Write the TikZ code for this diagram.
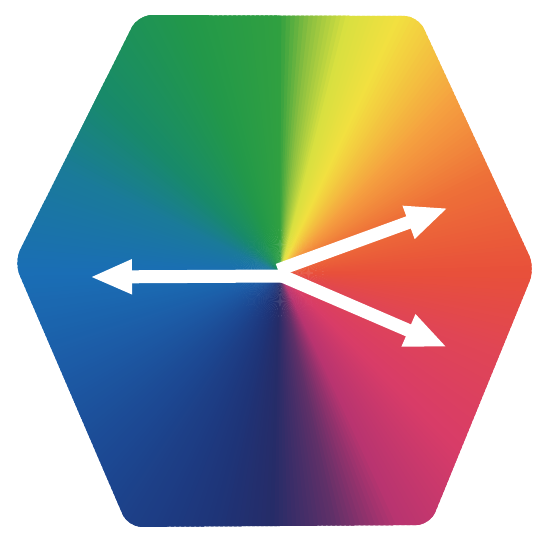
\documentclass[tikz,border=0pt]{standalone}
\usetikzlibrary{arrows.meta}
\definecolor{k0}{HTML}{E8503A}
\definecolor{k1}{HTML}{EE7038}
\definecolor{k2}{HTML}{F5A040}
\definecolor{k3}{HTML}{F2E040}
\definecolor{k4}{HTML}{D8E040}
\definecolor{k5}{HTML}{8CC040}
\definecolor{k6}{HTML}{30A040}
\definecolor{k7}{HTML}{22984A}
\definecolor{k8}{HTML}{188A6A}
\definecolor{k9}{HTML}{1A7A9A}
\definecolor{k10}{HTML}{1A6EB5}
\definecolor{k11}{HTML}{1C5AA5}
\definecolor{k12}{HTML}{1C4690}
\definecolor{k13}{HTML}{1E3478}
\definecolor{k14}{HTML}{262C68}
\definecolor{k15}{HTML}{603068}
\definecolor{k16}{HTML}{B83470}
\definecolor{k17}{HTML}{D83C68}
\definecolor{k18}{HTML}{E04555}
\tikzset{
  warrow/.style={draw=white, fill=white, line width=13pt, -{Triangle[length=42pt,width=32pt]}}
}
\begin{document}
\begin{tikzpicture}[x=1pt,y=1pt]
\useasboundingbox (0,0) rectangle (540,536);
\fill[white] (0,0) rectangle (540,536);
\coordinate (o) at (280,263);
\coordinate (h1) at (138,521);
\coordinate (h2) at (418,520);
\coordinate (h3) at (535,268);
\coordinate (h4) at (430,11);
\coordinate (h5) at (128,9);
\coordinate (h6) at (14,274);
\begin{scope}
\clip[rounded corners=14pt] (h1) -- (h2) -- (h3) -- (h4) -- (h5) -- (h6) -- cycle;
\foreach \aa/\ab/\ca/\cb in {0/25/k0/k1, 25/45/k1/k2, 45/65/k2/k3, 65/75/k3/k4, 75/83/k4/k5, 83/90/k5/k6, 90/110/k6/k7, 110/135/k7/k8, 135/155/k8/k9, 155/180/k9/k10, 180/205/k10/k11, 205/230/k11/k12, 230/255/k12/k13, 255/268/k13/k14, 268/282/k14/k15, 282/295/k15/k16, 295/315/k16/k17, 315/340/k17/k18, 340/360/k18/k0} {
  \pgfmathtruncatemacro\n{\ab-\aa-1}
  \foreach \i in {0,...,\n} {
    \pgfmathsetmacro\p{100*\i/(\ab-\aa)}
    \colorlet{tmp}{\cb!\p!\ca}
    \fill[tmp] (o) -- +(\aa+\i-0.3:420) -- +(\aa+\i+1.3:420) -- cycle;
  }
}
\end{scope}
\coordinate (s1) at (284,260);
\coordinate (t1) at (90,259);
\coordinate (s2) at (278,266);
\coordinate (t2) at (448,328);
\coordinate (s3) at (280,261);
\coordinate (t3) at (447,189);
\draw[warrow] (s1) -- (t1);
\draw[warrow] (s2) -- (t2);
\draw[warrow] (s3) -- (t3);
\end{tikzpicture}
\end{document}
